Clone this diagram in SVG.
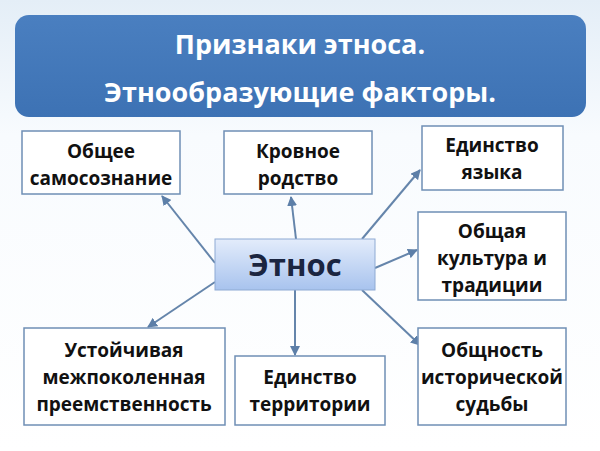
<svg xmlns="http://www.w3.org/2000/svg" width="600" height="451" viewBox="0 0 600 451">
<defs>
<linearGradient id="bg" x1="0" y1="0" x2="0" y2="1"><stop offset="0" stop-color="#e4eef7"/><stop offset="0.3" stop-color="#f8fbfe"/><stop offset="1" stop-color="#ffffff"/></linearGradient>
<linearGradient id="hd" x1="0" y1="0" x2="0" y2="1"><stop offset="0" stop-color="#4a7fc0"/><stop offset="1" stop-color="#3d72b4"/></linearGradient>
<linearGradient id="ct" x1="0" y1="0" x2="0" y2="1"><stop offset="0" stop-color="#e3ecfb"/><stop offset="1" stop-color="#a8c3ee"/></linearGradient>
<marker id="ar" viewBox="0 0 10 10" refX="9" refY="5" markerWidth="5" markerHeight="5" orient="auto"><path d="M0,0 L10,5 L0,10 z" fill="#5d7fa8"/></marker>
<style>
.b{fill:#fff;stroke:#6f8fb5;stroke-width:1.5}
.t{font-family:"Open Sans","Liberation Sans",sans-serif;font-weight:bold;font-size:19px;fill:#111;text-anchor:middle}
.c line{stroke:#6585ab;stroke-width:2;marker-end:url(#ar)}
</style>
</defs>
<rect width="600" height="451" fill="url(#bg)"/>
<g id="header">
<rect x="15" y="15" width="571" height="102" rx="14" fill="url(#hd)"/>
<text x="300" y="54" font-family="'Open Sans','Liberation Sans',sans-serif" font-weight="bold" font-size="27" fill="#fff" text-anchor="middle">Признаки этноса.</text>
<text x="300" y="102" font-family="'Open Sans','Liberation Sans',sans-serif" font-weight="bold" font-size="27" fill="#fff" text-anchor="middle">Этнообразующие факторы.</text>
</g>
<g class="c" id="connectors">
<line x1="215" y1="263" x2="162" y2="196"/>
<line x1="296" y1="239" x2="291" y2="197"/>
<line x1="362" y1="239" x2="420" y2="170"/>
<line x1="375" y1="268" x2="417" y2="250"/>
<line x1="215" y1="282" x2="148" y2="327"/>
<line x1="295" y1="290" x2="295" y2="355"/>
<line x1="362" y1="290" x2="420" y2="345"/>
</g>
<g id="center">
<rect x="215" y="239" width="160" height="51" fill="url(#ct)" stroke="#8eaad3" stroke-width="1"/>
<text x="295" y="276" font-family="'Open Sans','Liberation Sans',sans-serif" font-weight="bold" font-size="31" fill="#1b2540" text-anchor="middle">Этнос</text>
</g>
<g id="n1"><rect class="b" x="22" y="131" width="158" height="63"/><text class="t" x="101" y="158">Общее</text><text class="t" x="101" y="185">самосознание</text></g>
<g id="n2"><rect class="b" x="224" y="131" width="148" height="63"/><text class="t" x="298" y="158">Кровное</text><text class="t" x="298" y="185">родство</text></g>
<g id="n3"><rect class="b" x="422" y="126" width="141" height="64"/><text class="t" x="492" y="152">Единство</text><text class="t" x="492" y="179">языка</text></g>
<g id="n4"><rect class="b" x="418" y="212" width="148" height="88"/><text class="t" x="492" y="238">Общая</text><text class="t" x="492" y="265">культура и</text><text class="t" x="492" y="292">традиции</text></g>
<g id="n5"><rect class="b" x="24" y="328" width="201" height="97"/><text class="t" x="124" y="357">Устойчивая</text><text class="t" x="124" y="384">межпоколенная</text><text class="t" x="124" y="411">преемственность</text></g>
<g id="n6"><rect class="b" x="235" y="356" width="150" height="69"/><text class="t" x="310" y="384">Единство</text><text class="t" x="310" y="411">территории</text></g>
<g id="n7"><rect class="b" x="418" y="328" width="148" height="97"/><text class="t" x="492" y="357">Общность</text><text class="t" x="492" y="384">исторической</text><text class="t" x="492" y="411">судьбы</text></g>
</svg>
